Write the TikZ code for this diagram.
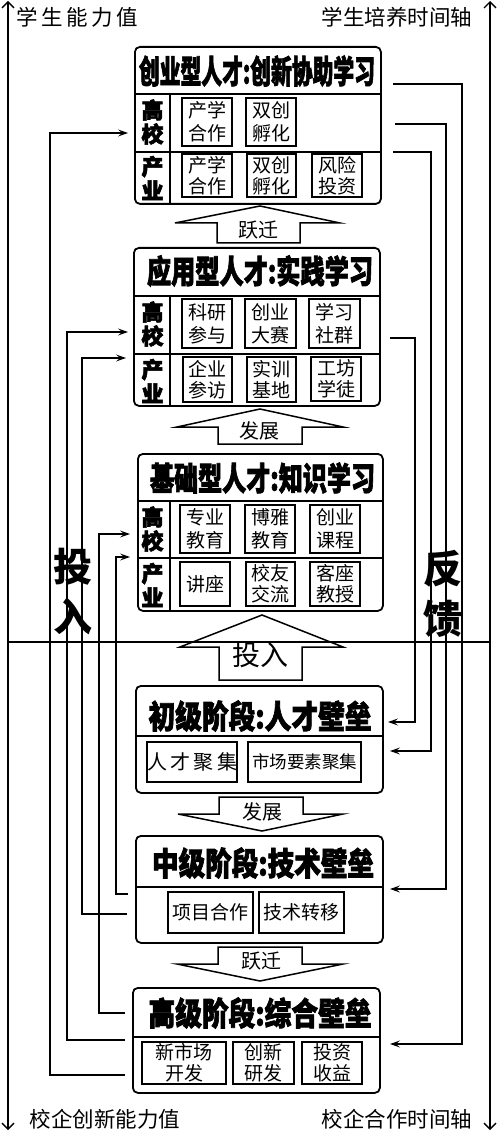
\documentclass[tikz,border=0pt]{standalone}
\usepackage{fontspec}
\usepackage{graphicx}
\usetikzlibrary{arrows.meta}
\newfontfamily\cjk{Noto Sans CJK SC}
\newfontfamily\cjkh{Noto Sans CJK SC}[BoldFeatures={FakeBold=2.5}]
\newcommand\ttl[2]{\resizebox{#1pt}{28pt}{\cjkh\bfseries #2}}
\begin{document}
\begin{tikzpicture}[x=1pt,y=-1pt,
  outer/.style={draw, line width=1.8pt, rounded corners=5pt, inner sep=0pt, anchor=north west},
  ib/.style={draw, line width=1.5pt, inner sep=0pt, align=center, font=\cjk\fontsize{19}{23}\selectfont},
  ibs/.style={ib, font=\cjk\fontsize{19}{21}\selectfont},
  lab/.style={font=\cjkh\bfseries\fontsize{22}{24}\selectfont, align=center, inner sep=0pt},
  dv/.style={line width=1.5pt},
  conn/.style={line width=1.2pt},
  arr/.style={conn, -{Stealth[open,length=10pt,width=7pt,inset=4pt]}},
  axis/.style={line width=1.3pt},
  blk/.style={line width=1.5pt, line join=miter},
  txt/.style={font=\cjk\fontsize{20}{22}\selectfont, inner sep=0pt},
  axl/.style={font=\cjk\fontsize{21.5}{22}\selectfont, inner sep=0pt},
  big/.style={font=\cjk\bfseries\fontsize{39}{50}\selectfont, inner sep=0pt, align=center}]

\path[use as bounding box] (0,0) rectangle (500,1131);

% axes
\coordinate (axl-t) at (8,1);
\coordinate (axl-b) at (8,1130);
\coordinate (axr-t) at (490,1);
\coordinate (axr-b) at (490,1130);
\coordinate (axh-l) at (8,642);
\coordinate (axh-r) at (490,642);
\draw[axis, {Straight Barb[length=6pt,width=12pt]}-{Straight Barb[length=6pt,width=12pt]}] (axl-b) -- (axl-t);
\draw[axis, {Straight Barb[length=6pt,width=12pt]}-{Straight Barb[length=6pt,width=12pt]}] (axr-b) -- (axr-t);
\draw[axis] (axh-l) -- (axh-r);

\node[axl] (lbl-tl) at (77,17) {学\,生\,能\,力\,值};
\node[axl] (lbl-tr) at (397,17) {学生培养时间轴};
\node[axl] (lbl-bl) at (105,1119) {校企创新能力值};
\node[axl] (lbl-br) at (397,1119) {校企合作时间轴};

% ===== Box 1 =====
\node[outer, minimum width=246pt, minimum height=157pt] (B1) at (134,46) {};
\draw[dv] (134,94) -- (380,94);
\draw[dv] (134,152) -- (380,152);
\draw[dv] (170,94) -- (170,203);
\node[inner sep=0pt] (T1) at (257,71) {\ttl{236}{创业型人才:创新协助学习}};
\node[lab] (B1g) at (152.5,122) {高\\校};
\node[lab] (B1c) at (152.5,178) {产\\业};
\node[ib, minimum width=50pt, minimum height=48pt] (b1a) at (207,122) {产学\\合作};
\node[ib, minimum width=50pt, minimum height=48pt] (b1b) at (271,122) {双创\\孵化};
\node[ibs, minimum width=50pt, minimum height=43pt] (b1c) at (207,175.5) {产学\\合作};
\node[ibs, minimum width=49pt, minimum height=43pt] (b1d) at (271.5,175.5) {双创\\孵化};
\node[ibs, minimum width=50pt, minimum height=43pt] (b1e) at (337,175.5) {风险\\投资};

% ===== Box 2 =====
\node[outer, minimum width=246pt, minimum height=158pt] (B2) at (133,247) {};
\draw[dv] (133,296) -- (379,296);
\draw[dv] (133,354) -- (379,354);
\draw[dv] (170,296) -- (170,405);
\node[inner sep=0pt] (T2) at (260,271) {\ttl{226}{应用型人才:实践学习}};
\node[lab] (B2g) at (152.5,324) {高\\校};
\node[lab] (B2c) at (152.5,381) {产\\业};
\node[ib, minimum width=50pt, minimum height=49pt] (b2a) at (207,323.5) {科研\\参与};
\node[ib, minimum width=51pt, minimum height=49pt] (b2b) at (270.5,323.5) {创业\\大赛};
\node[ib, minimum width=51pt, minimum height=49pt] (b2c) at (334.5,323.5) {学习\\社群};
\node[ibs, minimum width=49pt, minimum height=45pt] (b2d) at (207.5,379.5) {企业\\参访};
\node[ibs, minimum width=49pt, minimum height=45pt] (b2e) at (271.5,379.5) {实训\\基地};
\node[ibs, minimum width=50pt, minimum height=44pt] (b2f) at (336,379) {工坊\\学徒};

% ===== Box 3 =====
\node[outer, minimum width=245pt, minimum height=157pt] (B3) at (137,453) {};
\draw[dv] (137,501) -- (382,501);
\draw[dv] (137,558) -- (382,558);
\draw[dv] (170,501) -- (170,610);
\node[inner sep=0pt] (T3) at (262.5,478) {\ttl{225}{基础型人才:知识学习}};
\node[lab] (B3g) at (152.5,529) {高\\校};
\node[lab] (B3c) at (152.5,585) {产\\业};
\node[ib, minimum width=50pt, minimum height=48pt] (b3a) at (205,529) {专业\\教育};
\node[ib, minimum width=50pt, minimum height=48pt] (b3b) at (270,529) {博雅\\教育};
\node[ib, minimum width=50pt, minimum height=48pt] (b3c) at (335,529) {创业\\课程};
\node[ibs, minimum width=50pt, minimum height=44pt] (b3d) at (205,584) {讲座};
\node[ibs, minimum width=49pt, minimum height=44pt] (b3e) at (270.5,584) {校友\\交流};
\node[ibs, minimum width=50pt, minimum height=44pt] (b3f) at (335,584) {客座\\教授};

% ===== Box 4 =====
\node[outer, minimum width=247pt, minimum height=107pt] (B4) at (135,685) {};
\draw[dv] (135,736) -- (382,736);
\node[inner sep=0pt] (T4) at (260,716) {\ttl{223}{初级阶段:人才壁垒}};
\node[ib, minimum width=90pt, minimum height=40pt, font=\cjk\fontsize{20}{22}\selectfont] (b4a) at (192,762) {人\,才\,聚\,集};
\node[ib, minimum width=113pt, minimum height=40pt, font=\cjk\fontsize{17.5}{22}\selectfont] (b4b) at (304.5,762) {市场要素聚集};

% ===== Box 5 =====
\node[outer, minimum width=247pt, minimum height=107pt] (B5) at (135,835) {};
\draw[dv] (135,887) -- (382,887);
\node[inner sep=0pt] (T5) at (263,863) {\ttl{222}{中级阶段:技术壁垒}};
\node[ib, minimum width=85pt, minimum height=41pt, font=\cjk\fontsize{19}{22}\selectfont] (b5a) at (210.5,912.5) {项目合作};
\node[ib, minimum width=85pt, minimum height=41pt, font=\cjk\fontsize{19}{22}\selectfont] (b5b) at (301.5,912.5) {技术转移};

% ===== Box 6 =====
\node[outer, minimum width=247pt, minimum height=105pt] (B6) at (132,987) {};
\draw[dv] (132,1037) -- (379,1037);
\node[inner sep=0pt] (T6) at (260,1013) {\ttl{223}{高级阶段:综合壁垒}};
\node[ibs, minimum width=84pt, minimum height=42pt] (b6a) at (184,1063) {新市场\\开发};
\node[ibs, minimum width=61pt, minimum height=42pt] (b6b) at (263.5,1063) {创新\\研发};
\node[ibs, minimum width=60pt, minimum height=42pt] (b6c) at (332,1063) {投资\\收益};

% ===== block arrows =====
\draw[blk] (260,206) -- (340,223) -- (300,223) -- (300,243) -- (217,243) -- (217,223) -- (175,223) -- cycle;
\node[txt] (A1) at (258,230) {跃迁};
\draw[blk] (260,409) -- (343,427) -- (302,427) -- (302,444) -- (218,444) -- (218,427) -- (177,427) -- cycle;
\node[txt] (A2) at (259,431) {发展};
\draw[blk] (262,615) -- (343,647) -- (302,647) -- (302,680) -- (219,680) -- (219,647) -- (180,647) -- cycle;
\node[txt, font=\cjk\fontsize{28}{30}\selectfont] (A3) at (260,655) {投入};
\draw[blk] (219,797) -- (303,797) -- (303,814) -- (343,814) -- (262,831) -- (178,814) -- (219,814) -- cycle;
\node[txt] (A4) at (262,812) {发展};
\draw[blk] (218,947) -- (302,947) -- (302,964) -- (343,964) -- (260,981) -- (177,964) -- (218,964) -- cycle;
\node[txt] (A5) at (261,961) {跃迁};

% ===== big labels =====
\node[big] (inL) at (73,592) {投\\入};
\node[big] (fbR) at (443,594) {反\\馈};

% ===== left connectors (input) =====
\coordinate (l1a) at (125,1075); \coordinate (l1b) at (128,133);
\coordinate (l2a) at (125,1040); \coordinate (l2b) at (128,332);
\coordinate (l3a) at (127,914);  \coordinate (l3b) at (126,358);
\coordinate (l4a) at (125,1013); \coordinate (l4b) at (130,534);
\coordinate (l5a) at (128,894);  \coordinate (l5b) at (130,557);
\draw[arr] (l1a) -- ++(-75,0) |- (l1b);
\draw[arr] (l2a) -- ++(-58,0) |- (l2b);
\draw[arr] (l3a) -- ++(-45,0) |- (l3b);
\draw[arr] (l4a) -- ++(-26,0) |- (l4b);
\draw[arr] (l5a) -- ++(-12,0) |- (l5b);

% ===== right connectors (feedback) =====
\coordinate (r1a) at (393,84);  \coordinate (r1b) at (390,1044);
\coordinate (r2a) at (395,124); \coordinate (r2b) at (390,889);
\coordinate (r3a) at (393,152); \coordinate (r3b) at (390,751);
\coordinate (r4a) at (390,338); \coordinate (r4b) at (388,722);
\draw[arr] (r1a) -- ++(69,0) |- (r1b);
\draw[arr] (r2a) -- ++(51,0) |- (r2b);
\draw[arr] (r3a) -- ++(38,0) |- (r3b);
\draw[arr] (r4a) -- ++(25,0) |- (r4b);
\end{tikzpicture}
\end{document}
